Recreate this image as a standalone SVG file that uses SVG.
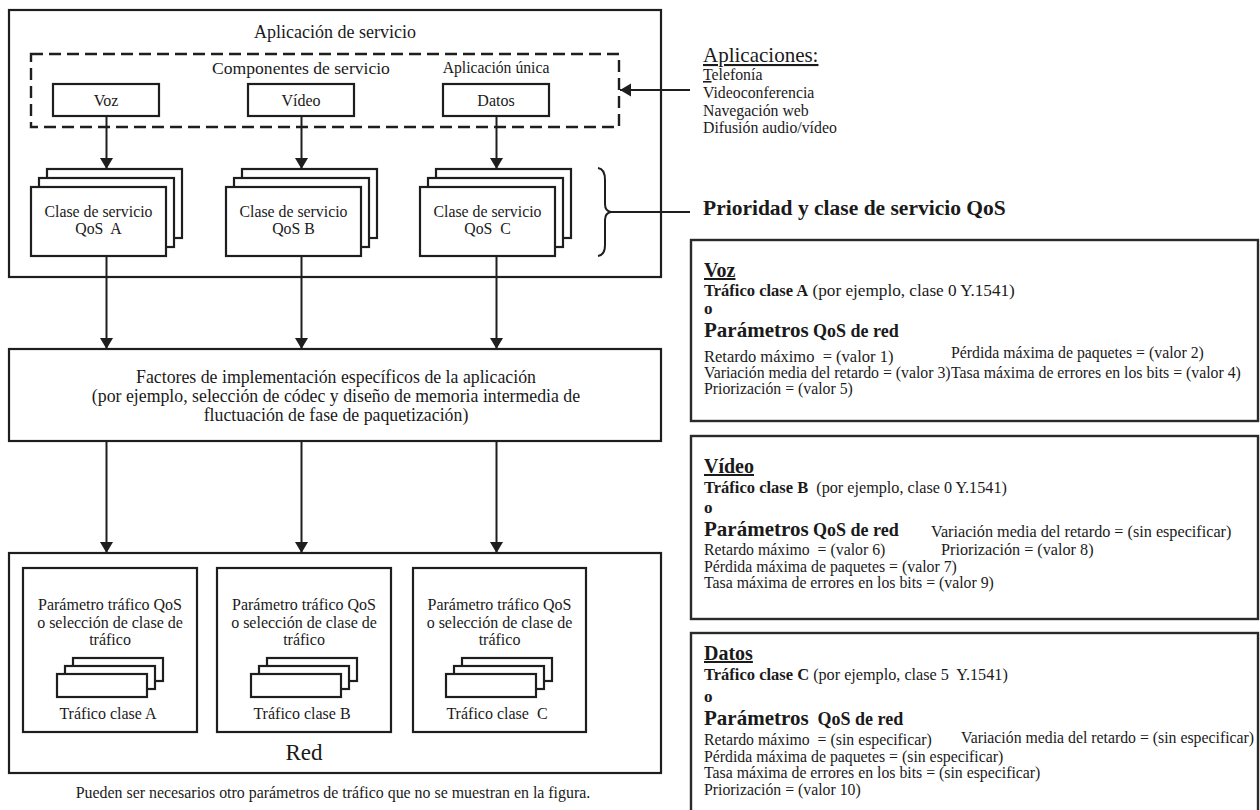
<svg xmlns="http://www.w3.org/2000/svg" width="1260" height="810" viewBox="0 0 1260 810">
<style>
text{font-family:"Liberation Serif","Times New Roman",serif;fill:#1a1a1a}
.box{fill:#fff;stroke:#1e1e1e;stroke-width:2.2}
.panel{fill:#fff;stroke:#2a2a2a;stroke-width:2.4}
.dash{fill:none;stroke:#1e1e1e;stroke-width:2.4;stroke-dasharray:12 6}
.conn line,.conn path{stroke:#1e1e1e;stroke-width:2;fill:none}
.c{text-anchor:middle}
.b{font-weight:bold}
.u{text-decoration:underline}
.p{font-size:15.8px}
</style>
<defs>
<marker id="ah" markerUnits="userSpaceOnUse" markerWidth="12" markerHeight="14" refX="11" refY="6.5" orient="auto">
<path d="M0,0 L11,6.5 L0,13 z" fill="#1e1e1e"/>
</marker>
</defs>

<g id="aplicacion-servicio">
<rect class="box" x="9" y="10" width="652" height="267"/>
<text class="c" x="335" y="38" font-size="18">Aplicación de servicio</text>
</g>

<g id="componentes">
<rect class="dash" x="31" y="54" width="588" height="73"/>
<text class="c" x="301" y="74" font-size="17.6">Componentes de servicio</text>
<text class="c" x="496" y="73" font-size="15.7">Aplicación única</text>
</g>

<g id="voz"><rect class="box" x="53" y="84" width="106" height="32"/><text class="c" x="106" y="106" font-size="16">Voz</text></g>
<g id="video"><rect class="box" x="248" y="84" width="106" height="32"/><text class="c" x="301" y="106" font-size="16">Vídeo</text></g>
<g id="datos"><rect class="box" x="443" y="84" width="106" height="32"/><text class="c" x="496" y="106" font-size="16">Datos</text></g>

<g id="clase-a">
<rect class="box" x="47" y="169" width="135" height="69"/>
<rect class="box" x="39" y="178" width="135" height="69"/>
<rect class="box" x="31" y="187" width="135" height="69"/>
<text class="c" x="98.5" y="216.5" font-size="15.8">Clase de servicio</text>
<text class="c" x="98.5" y="234" font-size="15.8" xml:space="preserve">QoS  A</text>
</g>
<g id="clase-b">
<rect class="box" x="242" y="169" width="135" height="69"/>
<rect class="box" x="234" y="178" width="135" height="69"/>
<rect class="box" x="226" y="187" width="135" height="69"/>
<text class="c" x="293.5" y="216.5" font-size="15.8">Clase de servicio</text>
<text class="c" x="293.5" y="234" font-size="15.8">QoS B</text>
</g>
<g id="clase-c">
<rect class="box" x="436" y="169" width="135" height="69"/>
<rect class="box" x="428" y="178" width="135" height="69"/>
<rect class="box" x="420" y="187" width="135" height="69"/>
<text class="c" x="487.5" y="216.5" font-size="15.8">Clase de servicio</text>
<text class="c" x="487.5" y="234" font-size="15.8" xml:space="preserve">QoS  C</text>
</g>

<g id="aplicaciones">
<text x="703" y="62" font-size="21" class="u">Aplicaciones:</text>
<text x="703" y="80" font-size="15.8"><tspan class="u">T</tspan>elefonía</text>
<text x="703" y="98" font-size="15.8">Videoconferencia</text>
<text x="703" y="116" font-size="15.8">Navegación web</text>
<text x="703" y="133" font-size="15.8">Difusión audio/vídeo</text>
</g>

<g id="prioridad">
<text x="703" y="215" font-size="21.5" class="b">Prioridad y clase de servicio QoS</text>
</g>

<g id="factores">
<rect class="box" x="9" y="349" width="652" height="92"/>
<text class="c" x="336" y="383" font-size="17.8">Factores de implementación específicos de la aplicación</text>
<text class="c" x="336" y="402" font-size="17.8">(por ejemplo, selección de códec y diseño de memoria intermedia de</text>
<text class="c" x="336" y="421" font-size="17.8">fluctuación de fase de paquetización)</text>
</g>

<g id="red">
<rect class="box" x="9" y="553" width="652" height="220"/>
<text class="c" x="304" y="760" font-size="23">Red</text>
</g>
<g id="trafico-a">
<rect class="box" x="23" y="568" width="174" height="164"/>
<text class="c" x="110" y="610" font-size="16">Parámetro tráfico QoS</text>
<text class="c" x="110" y="628" font-size="16">o selección de clase de</text>
<text class="c" x="110" y="645" font-size="16">tráfico</text>
<rect class="box" x="73" y="658" width="90" height="23"/>
<rect class="box" x="65" y="666" width="90" height="23"/>
<rect class="box" x="57" y="674" width="90" height="23"/>
<text class="c" x="108" y="719" font-size="16">Tráfico clase A</text>
</g>
<g id="trafico-b">
<rect class="box" x="217" y="568" width="174" height="164"/>
<text class="c" x="304" y="610" font-size="16">Parámetro tráfico QoS</text>
<text class="c" x="304" y="628" font-size="16">o selección de clase de</text>
<text class="c" x="304" y="645" font-size="16">tráfico</text>
<rect class="box" x="267" y="658" width="90" height="23"/>
<rect class="box" x="259" y="666" width="90" height="23"/>
<rect class="box" x="251" y="674" width="90" height="23"/>
<text class="c" x="302" y="719" font-size="16">Tráfico clase B</text>
</g>
<g id="trafico-c">
<rect class="box" x="413" y="568" width="173" height="164"/>
<text class="c" x="499.5" y="610" font-size="16">Parámetro tráfico QoS</text>
<text class="c" x="499.5" y="628" font-size="16">o selección de clase de</text>
<text class="c" x="499.5" y="645" font-size="16">tráfico</text>
<rect class="box" x="462" y="658" width="90" height="23"/>
<rect class="box" x="454" y="666" width="90" height="23"/>
<rect class="box" x="446" y="674" width="90" height="23"/>
<text class="c" x="497" y="719" font-size="16" xml:space="preserve">Tráfico clase  C</text>
</g>

<g id="nota">
<text class="c" x="333" y="798" font-size="15.9">Pueden ser necesarios otro parámetros de tráfico que no se muestran en la figura.</text>
</g>

<g id="panel-voz">
<rect class="panel" x="691" y="240" width="567" height="181"/>
<text x="704" y="277" font-size="20" class="b u">Voz</text>
<text x="704" y="296"><tspan class="b" font-size="16.5">Tráfico clase A</tspan><tspan font-size="17.2"> (por ejemplo, clase 0 Y.1541)</tspan></text>
<text x="704" y="314" font-size="17" class="b">o</text>
<text x="704" y="337" class="b"><tspan font-size="21">Parámetros</tspan><tspan font-size="18"> QoS de red</tspan></text>
<text x="704" y="362" font-size="16.5" xml:space="preserve">Retardo máximo  = (valor 1)</text>
<text x="704" y="378" class="p">Variación media del retardo = (valor 3)</text>
<text x="704" y="394" class="p">Priorización = (valor 5)</text>
<text x="951" y="358" class="p">Pérdida máxima de paquetes = (valor 2)</text>
<text x="951" y="378" class="p">Tasa máxima de errores en los bits = (valor 4)</text>
</g>

<g id="panel-video">
<rect class="panel" x="691" y="436" width="567" height="183"/>
<text x="704" y="473" font-size="20" class="b u">Vídeo</text>
<text x="704" y="493" xml:space="preserve"><tspan class="b" font-size="16.5">Tráfico clase B</tspan><tspan font-size="16.2">  (por ejemplo, clase 0 Y.1541)</tspan></text>
<text x="704" y="513" font-size="17" class="b">o</text>
<text x="704" y="536" class="b"><tspan font-size="21">Parámetros</tspan><tspan font-size="18"> QoS de red</tspan></text>
<text x="931" y="537" font-size="16.2">Variación media del retardo = (sin especificar)</text>
<text x="704" y="555" class="p" xml:space="preserve">Retardo máximo  = (valor 6)</text>
<text x="941" y="555" font-size="16.2">Priorización = (valor 8)</text>
<text x="704" y="572" class="p">Pérdida máxima de paquetes = (valor 7)</text>
<text x="704" y="588" class="p">Tasa máxima de errores en los bits = (valor 9)</text>
</g>

<g id="panel-datos">
<rect class="panel" x="691" y="633" width="567" height="182"/>
<text x="704" y="660" font-size="20" class="b u">Datos</text>
<text x="704" y="680" xml:space="preserve"><tspan class="b" font-size="16.5">Tráfico clase C</tspan><tspan font-size="16.2"> (por ejemplo, clase 5  Y.1541)</tspan></text>
<text x="704" y="702" font-size="17" class="b">o</text>
<text x="704" y="725" class="b" xml:space="preserve"><tspan font-size="21">Parámetros</tspan><tspan font-size="18">  QoS de red</tspan></text>
<text x="704" y="745" class="p" xml:space="preserve">Retardo máximo  = (sin especificar)</text>
<text x="961" y="743" class="p">Variación media del retardo = (sin especificar)</text>
<text x="704" y="762" class="p">Pérdida máxima de paquetes = (sin especificar)</text>
<text x="704" y="778" class="p">Tasa máxima de errores en los bits = (sin especificar)</text>
<text x="704" y="795" class="p">Priorización = (valor 10)</text>
</g>

<g id="connectors" class="conn">
<line x1="106.5" y1="116" x2="106.5" y2="169" marker-end="url(#ah)"/>
<line x1="301.5" y1="116" x2="301.5" y2="169" marker-end="url(#ah)"/>
<line x1="496.5" y1="116" x2="496.5" y2="169" marker-end="url(#ah)"/>
<line x1="690" y1="90" x2="620" y2="90" marker-end="url(#ah)"/>
<line x1="106.5" y1="256" x2="106.5" y2="349" marker-end="url(#ah)"/>
<line x1="301.5" y1="256" x2="301.5" y2="349" marker-end="url(#ah)"/>
<line x1="496.5" y1="256" x2="496.5" y2="349" marker-end="url(#ah)"/>
<line x1="106.5" y1="441" x2="106.5" y2="553" marker-end="url(#ah)"/>
<line x1="301.5" y1="441" x2="301.5" y2="553" marker-end="url(#ah)"/>
<line x1="496.5" y1="441" x2="496.5" y2="553" marker-end="url(#ah)"/>
<path d="M598,168 Q605,169 605,180 L605,204 Q605,211 611,212 Q605,213 605,220 L605,245 Q605,255 598,256"/>
<line x1="611" y1="212" x2="690" y2="212"/>
</g>
</svg>
